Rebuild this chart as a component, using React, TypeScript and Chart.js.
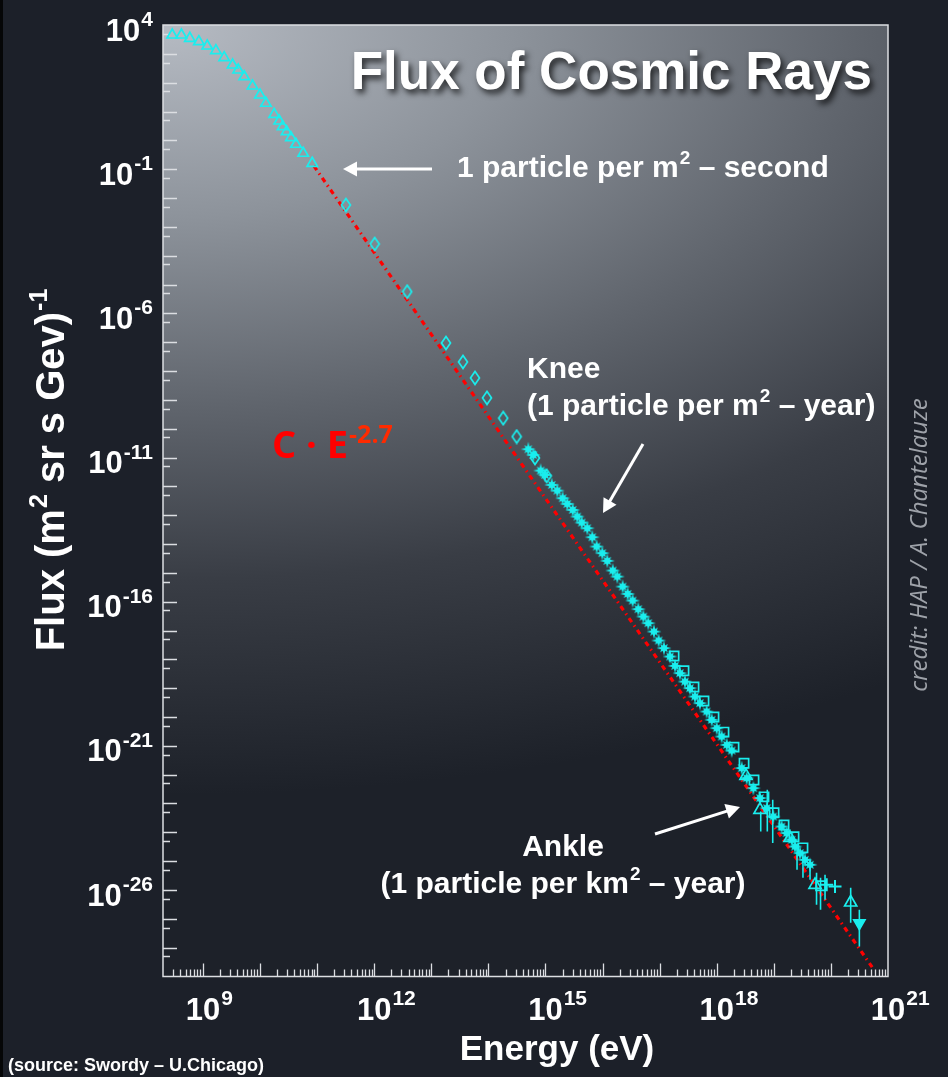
import React, { useEffect, useRef } from "react";
import { Chart, registerables } from "chart.js";

Chart.register(...registerables);

const W = 948;
const H = 1077;
const CYAN = "#1aeeee";
const AXIS = "#dcdee2";
const SANS = '"Liberation Sans", Arial, Helvetica, sans-serif';

// ---------- data (energy in eV, flux in (m^2 sr s GeV)^-1) ----------
const lowEnergy = [2.9e8, 4.2e8, 5.9e8, 8.5e8, 1.19e9, 1.69e9, 2.36e9, 3.31e9, 4.15e9, 5.3e9, 7.4e9, 1.0e10, 1.27e10, 1.77e10, 2.17e10, 2.49e10, 2.92e10, 3.48e10, 4.26e10, 5.71e10, 8.22e10];
const lowFlux = [4.5e3, 4.5e3, 3.46e3, 2.64e3, 1.87e3, 1.29e3, 735, 410, 275, 161, 76.7, 37.4, 19.3, 8.0, 4.69, 2.98, 2.0, 1.24, 0.73, 0.356, 0.16];

const diamondEnergy = [3.2e11, 1.02e12, 3.79e12, 1.81e13, 3.59e13, 5.82e13, 9.45e13, 1.82e14, 3.13e14, 6.55e14, 1.05e15];
const diamondFlux = [5.74e-3, 2.55e-4, 5.66e-6, 9.4e-8, 2.07e-8, 5.75e-9, 1.17e-9, 2.31e-10, 5.31e-11, 9.68e-12, 2.3e-12];

const starEnergy = [5.0e14, 6.12e14, 8.24e14, 9.82e14, 1.29e15, 1.61e15, 2.0e15, 2.41e15, 3.0e15, 3.61e15, 4.32e15, 5.41e15, 6.61e15, 7.89e15, 9.89e15, 1.21e16, 1.51e16, 1.81e16, 2.25e16, 2.75e16, 3.37e16, 4.23e16, 5.18e16, 6.32e16, 7.96e16, 9.62e16, 1.19e17, 1.52e17, 1.86e17, 2.27e17, 2.78e17, 3.4e17, 4.16e17, 5.09e17, 6.67e17, 8.17e17, 1.0e18, 1.22e18, 1.5e18, 1.83e18, 2.74e18, 3.35e18, 4.38e18, 5.73e18, 7.52e18, 9.79e18, 1.37e19, 1.68e19, 2.06e19, 2.35e19, 2.88e19, 3.52e19, 4.31e19];
const starFlux = [1.94e-11, 1.23e-11, 3.52e-12, 2.49e-12, 1.12e-12, 7.11e-13, 3.88e-13, 2.46e-13, 1.52e-13, 8.93e-14, 5.53e-14, 3.53e-14, 1.72e-14, 8.15e-15, 4.81e-15, 2.6e-15, 1.2e-15, 7.41e-16, 3.34e-16, 1.86e-16, 1.09e-16, 5.5e-17, 3.04e-17, 1.8e-17, 9.18e-18, 4.48e-18, 2.44e-18, 1.25e-18, 5.94e-19, 3.32e-19, 1.69e-19, 1.0e-19, 5.12e-20, 3.02e-20, 1.55e-20, 7.98e-21, 4.11e-21, 2.1e-21, 1.08e-21, 6.87e-22, 1.69e-22, 7.59e-23, 3.41e-23, 1.54e-23, 6.92e-24, 3.54e-24, 1.59e-24, 9.4e-25, 5.51e-25, 3.22e-25, 1.9e-25, 1.11e-25, 7.48e-26];

const squareEnergy = [1.79e17, 2.67e17, 4.0e17, 5.98e17, 8.96e17, 1.34e18, 2.01e18, 3.01e18, 4.5e18, 6.73e18, 1.01e19, 1.51e19, 2.26e19, 3.24e19, 6.6e19];
const squareFlux = [1.3e-18, 4.0e-19, 1.1e-19, 3.6e-20, 1.0e-20, 3.0e-21, 9.0e-22, 2.5e-22, 6.5e-23, 1.7e-23, 4.8e-24, 1.8e-24, 7.0e-25, 2.9e-25, 1.4e-26];

const triEnergy = [3.26e18, 5.73e18, 1.92e19, 5.27e19, 2.22e20];
const triFlux = [9.12e-23, 6.04e-24, 6.46e-25, 1.51e-26, 3.69e-27];

const plusEnergy = [8.45e19, 1.18e20];
const plusFlux = [1.51e-26, 1.32e-26];

const limitEnergy = [3.15e20];
const limitFlux = [7.1e-28];

const errEnergy = [5.9e18, 7.69e18, 9.57e18, 2.55e19, 3.24e19, 4.31e19, 5.6e19, 6.58e19, 7.89e19, 2.22e20, 3.15e20];
const errLow = [1.07e-24, 1.07e-24, 4.23e-25, 5.01e-26, 2.65e-26, 2.26e-26, 3.07e-27, 2.06e-27, 4.57e-27, 7.29e-28, 1.1e-28];
const errHigh = [5.27e-24, 2.98e-23, 1.34e-23, 3.69e-25, 2.11e-25, 1.11e-25, 3.95e-26, 2.65e-26, 3.37e-26, 1.19e-26, 2.06e-27];

const fitEnergy = [8.8e10, 5.7e20];
const fitFlux = [0.129, 1.7e-29];

const xLabelDecades = [9, 12, 15, 18, 21];
const yLabelDecades = [4, -1, -6, -11, -16, -21, -26];

// ---------- helpers ----------
type Part = { t: string; font: string; dy?: number; dx?: number; color?: string };

function richWidth(ctx: CanvasRenderingContext2D, parts: Part[]) {
  let w = 0;
  for (const p of parts) {
    ctx.font = p.font;
    w += ctx.measureText(p.t).width + (p.dx || 0);
  }
  return w;
}

function drawRich(ctx: CanvasRenderingContext2D, parts: Part[], x: number, y: number, align: "left" | "right" | "center") {
  const w = richWidth(ctx, parts);
  let cx = align === "left" ? x : align === "right" ? x - w : x - w / 2;
  ctx.textAlign = "left";
  ctx.textBaseline = "alphabetic";
  for (const p of parts) {
    ctx.font = p.font;
    cx += p.dx || 0;
    if (p.color) ctx.fillStyle = p.color;
    ctx.fillText(p.t, cx, y + (p.dy || 0));
    cx += ctx.measureText(p.t).width;
  }
}

function drawArrow(ctx: CanvasRenderingContext2D, x1: number, y1: number, x2: number, y2: number) {
  const ang = Math.atan2(y2 - y1, x2 - x1);
  const hl = 14;
  const hw = 7.5;
  const bx = x2 - hl * Math.cos(ang);
  const by = y2 - hl * Math.sin(ang);
  ctx.strokeStyle = "#ffffff";
  ctx.fillStyle = "#ffffff";
  ctx.lineWidth = 3;
  ctx.beginPath();
  ctx.moveTo(x1, y1);
  ctx.lineTo(bx + 2 * Math.cos(ang), by + 2 * Math.sin(ang));
  ctx.stroke();
  ctx.beginPath();
  ctx.moveTo(x2, y2);
  ctx.lineTo(bx + hw * Math.sin(ang), by - hw * Math.cos(ang));
  ctx.lineTo(bx - hw * Math.sin(ang), by + hw * Math.cos(ang));
  ctx.closePath();
  ctx.fill();
}

function makeDiamond(): HTMLCanvasElement {
  const c = document.createElement("canvas");
  c.width = 12;
  c.height = 16;
  const g = c.getContext("2d")!;
  g.strokeStyle = CYAN;
  g.lineWidth = 1.7;
  g.beginPath();
  g.moveTo(6, 1.5);
  g.lineTo(10.5, 8);
  g.lineTo(6, 14.5);
  g.lineTo(1.5, 8);
  g.closePath();
  g.stroke();
  return c;
}

function makeStar(): HTMLCanvasElement {
  const c = document.createElement("canvas");
  c.width = 18;
  c.height = 18;
  const g = c.getContext("2d")!;
  g.fillStyle = CYAN;
  g.beginPath();
  for (let k = 0; k < 16; k++) {
    const a = (k * Math.PI) / 8 - Math.PI / 2;
    const r = k % 2 === 1 ? 3.0 : k % 4 === 0 ? 7.5 : 5.5;
    const px = 9 + r * Math.cos(a);
    const py = 9 + r * Math.sin(a);
    if (k === 0) g.moveTo(px, py);
    else g.lineTo(px, py);
  }
  g.closePath();
  g.fill();
  return c;
}

const toXY = (xs: number[], ys: number[]) => xs.map((x, i) => ({ x, y: ys[i] }));

const decoPlugin = {
  id: "deco",
  beforeDraw(chart: any) {
    const { ctx, chartArea: a } = chart;
    ctx.save();
    ctx.fillStyle = "#1c2029";
    ctx.fillRect(0, 0, W, H);
    ctx.fillStyle = "#050607";
    ctx.fillRect(0, 0, 3, H);
    ctx.beginPath();
    ctx.rect(a.left, a.top, a.right - a.left, a.bottom - a.top);
    ctx.clip();
    ctx.translate(a.left, a.top);
    ctx.scale(1, 0.55);
    const g = ctx.createRadialGradient(0, 0, 0, 0, 0, 1400);
    g.addColorStop(0, "#b6bbc3");
    g.addColorStop(0.25, "#8d939b");
    g.addColorStop(0.5, "#5f646c");
    g.addColorStop(0.72, "#393d45");
    g.addColorStop(1, "#1d2129");
    ctx.fillStyle = g;
    ctx.fillRect(0, 0, 1400, 2200);
    ctx.restore();
  },
  beforeDatasetsDraw(chart: any) {
    const { ctx, chartArea: a, scales } = chart;
    const xs = scales.x;
    const ys = scales.y;
    ctx.save();
    ctx.strokeStyle = AXIS;
    ctx.lineWidth = 1.5;
    ctx.strokeRect(a.left, a.top, a.right - a.left, a.bottom - a.top);
    ctx.lineWidth = 1.3;
    ctx.beginPath();
    for (let n = 8; n <= 21; n++) {
      for (let m = 1; m <= 9; m++) {
        const v = m * Math.pow(10, n);
        if (v < xs.min * 0.999 || v > xs.max * 1.001) continue;
        const px = Math.round(xs.getPixelForValue(v)) + 0.5;
        if (px <= a.left + 1 || px >= a.right - 1) continue;
        const len = m === 1 ? 13 : 7;
        ctx.moveTo(px, a.bottom);
        ctx.lineTo(px, a.bottom - len);
      }
    }
    for (let n = -29; n <= 4; n++) {
      const vl = Math.pow(10, n);
      const vs = 0.5 * Math.pow(10, n);
      for (const [v, len] of [[vl, 14], [vs, 7]] as [number, number][]) {
        if (v < ys.min * 0.999 || v > ys.max * 1.001) continue;
        const py = Math.round(ys.getPixelForValue(v)) + 0.5;
        if (py <= a.top + 1 || py >= a.bottom - 1) continue;
        ctx.moveTo(a.left, py);
        ctx.lineTo(a.left + len, py);
      }
    }
    ctx.stroke();
    ctx.restore();
  },
  afterDraw(chart: any) {
    const { ctx, scales } = chart;
    const xs = scales.x;
    const ys = scales.y;
    const B = (s: number) => `bold ${s}px ${SANS}`;
    ctx.save();
    ctx.fillStyle = "#ffffff";

    for (const d of xLabelDecades) {
      const px = xs.getPixelForValue(Math.pow(10, d));
      ctx.font = B(31);
      const w10 = ctx.measureText("10").width;
      drawRich(ctx, [
        { t: "10", font: B(31) },
        { t: String(d), font: B(21), dy: -15, dx: 1 },
      ], px - w10 / 2, 1020, "left");
    }
    for (const d of yLabelDecades) {
      const py = ys.getPixelForValue(Math.pow(10, d));
      drawRich(ctx, [
        { t: "10", font: B(31), dy: 15.5 },
        { t: String(d), font: B(21), dy: 1, dx: 1 },
      ], 153, py, "right");
    }

    drawRich(ctx, [{ t: "Energy (eV)", font: B(35) }], 557, 1060, "center");
    ctx.save();
    ctx.translate(64, 470);
    ctx.rotate(-Math.PI / 2);
    drawRich(ctx, [
      { t: "Flux (m", font: B(40) },
      { t: "2", font: B(25), dy: -17, dx: 1 },
      { t: " sr s Gev)", font: B(40) },
      { t: "-1", font: B(25), dy: -17, dx: 1 },
    ], 0, 0, "center");
    ctx.restore();

    ctx.save();
    ctx.shadowColor = "rgba(0,0,0,0.75)";
    ctx.shadowBlur = 6;
    ctx.shadowOffsetX = 3;
    ctx.shadowOffsetY = 4;
    drawRich(ctx, [{ t: "Flux of Cosmic Rays", font: B(53), color: "#ffffff" }], 872, 89, "right");
    ctx.restore();

    ctx.fillStyle = "#ffffff";
    drawRich(ctx, [
      { t: "1 particle per m", font: B(30) },
      { t: "2", font: B(19), dy: -13, dx: 1 },
      { t: " \u2013 second", font: B(30) },
    ], 457, 177, "left");
    drawArrow(ctx, 432, 169, 343, 169);

    drawRich(ctx, [{ t: "Knee", font: B(30) }], 527, 378, "left");
    drawRich(ctx, [
      { t: "(1 particle per m", font: B(30) },
      { t: "2", font: B(19), dy: -13, dx: 1 },
      { t: " \u2013 year)", font: B(30) },
    ], 527, 415, "left");
    drawArrow(ctx, 643, 444, 603, 513);

    drawRich(ctx, [{ t: "Ankle", font: B(30) }], 563, 856, "center");
    drawRich(ctx, [
      { t: "(1 particle per km", font: B(30) },
      { t: "2", font: B(19), dy: -13, dx: 1 },
      { t: " \u2013 year)", font: B(30) },
    ], 563, 893, "center");
    drawArrow(ctx, 655, 834, 740, 807);

    const OS = (s: number) => `bold ${s}px "Open Sans", "Noto Sans", sans-serif`;
    drawRich(ctx, [
      { t: "C \u00b7 E", font: OS(38), color: "#ff0000" },
      { t: "-2.7", font: OS(25), dy: -15, dx: 1, color: "#ff2a00" },
    ], 272, 458, "left");

    ctx.save();
    ctx.fillStyle = "#9ea2a9";
    ctx.translate(927, 545);
    ctx.rotate(-Math.PI / 2);
    drawRich(ctx, [{ t: "credit: HAP / A. Chantelauze", font: `italic 24px "Open Sans", "Noto Sans", sans-serif` }], 0, 0, "center");
    ctx.restore();

    ctx.fillStyle = "#ffffff";
    drawRich(ctx, [{ t: "(source: Swordy \u2013 U.Chicago)", font: B(18) }], 8, 1071, "left");
    ctx.restore();
  },
};

export default function App() {
  const ref = useRef<HTMLCanvasElement | null>(null);

  useEffect(() => {
    if (!ref.current) return;
    const diamond = makeDiamond();
    const star = makeStar();
    const errData: any[] = [];
    errEnergy.forEach((e, i) => {
      errData.push({ x: e, y: errLow[i] }, { x: e, y: errHigh[i] }, { x: e, y: null });
    });
    const pt = (extra: any) => ({
      showLine: false,
      pointBorderColor: CYAN,
      pointBackgroundColor: "rgba(0,0,0,0)",
      pointBorderWidth: 1.7,
      ...extra,
    });

    const chart = new Chart(ref.current, {
      type: "scatter",
      data: {
        datasets: [
          {
            label: "C E^-2.7",
            data: toXY(fitEnergy, fitFlux),
            showLine: true,
            borderColor: "#ff0000",
            borderWidth: 3.2,
            borderDash: [5, 4, 1.5, 4],
            pointRadius: 0,
            order: 10,
          },
          {
            label: "errors",
            data: errData,
            showLine: true,
            spanGaps: false,
            borderColor: CYAN,
            borderWidth: 1.6,
            pointRadius: 0,
            order: 6,
          },
          pt({ label: "low", data: toXY(lowEnergy, lowFlux), pointStyle: "triangle", pointRadius: 6, order: 1 }),
          pt({ label: "diamond", data: toXY(diamondEnergy, diamondFlux), pointStyle: diamond, pointRadius: 5, order: 2 }),
          pt({ label: "square", data: toXY(squareEnergy, squareFlux), pointStyle: "rect", pointRadius: 6.5, order: 4 }),
          pt({ label: "star", data: toXY(starEnergy, starFlux), pointStyle: star, pointRadius: 5, order: 3 }),
          pt({ label: "tri", data: toXY(triEnergy, triFlux), pointStyle: "triangle", pointRadius: 7, order: 2 }),
          pt({ label: "plus", data: toXY(plusEnergy, plusFlux), pointStyle: "cross", pointRadius: 6.5, pointBorderWidth: 2, order: 2 }),
          pt({ label: "limit", data: toXY(limitEnergy, limitFlux), pointStyle: "triangle", rotation: 180, pointRadius: 6.5, pointBackgroundColor: CYAN, order: 2 }),
        ],
      },
      options: {
        animation: false,
        responsive: false,
        devicePixelRatio: 1,
        events: [],
        layout: { padding: { left: 0, top: 25, right: 60, bottom: 0 } },
        plugins: {
          legend: { display: false },
          tooltip: { enabled: false },
          title: { display: false },
        },
        scales: {
          x: {
            type: "logarithmic",
            min: 2e8,
            max: 1e21,
            grid: { display: false },
            border: { display: false },
            ticks: { display: false },
            afterFit: (s: any) => {
              s.height = 100.5;
            },
          },
          y: {
            type: "logarithmic",
            min: 1e-29,
            max: 1e4,
            grid: { display: false },
            border: { display: false },
            ticks: { display: false },
            afterFit: (s: any) => {
              s.width = 163;
            },
          },
        },
      } as any,
      plugins: [decoPlugin as any],
    });
    return () => chart.destroy();
  }, []);

  return (
    <div style={{ position: "absolute", left: 0, top: 0, width: W, height: H, background: "#1c2029" }}>
      <canvas ref={ref} width={W} height={H} style={{ display: "block", width: W, height: H }} />
    </div>
  );
}
